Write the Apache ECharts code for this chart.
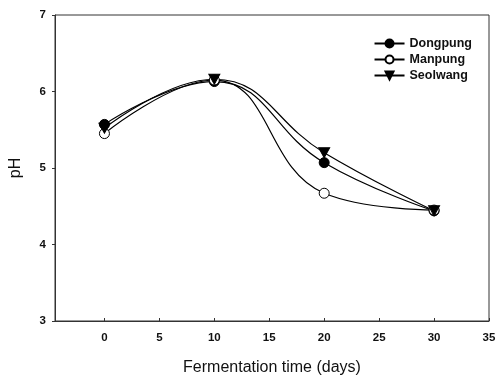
<!DOCTYPE html>
<html>
<head>
<meta charset="utf-8">
<script src="https://cdn.jsdelivr.net/npm/echarts@6/dist/echarts.min.js"></script>
<style>
  html, body { margin: 0; padding: 0; background: #fff; }
  #chart { width: 497px; height: 378px; }
</style>
</head>
<body>
<div id="chart"></div>
<script>
// fermentation days
const days = [0, 10, 20, 30];
// pH
const dongpung = [5.57, 6.13, 5.07, 4.44];
const manpung = [5.45, 6.15, 4.67, 4.45];
const seolwang = [5.52, 6.16, 5.2, 4.44];
const xTicks = [0, 5, 10, 15, 20, 25, 30, 35];
const yTicks = [3, 4, 5, 6, 7];

const chart = echarts.init(document.getElementById('chart'));

const font = 'Liberation Sans, Arial, sans-serif';

function pairs(vals) {
  return days.map((d, i) => [d, vals[i]]);
}

function line(name, vals, symbol, fill, size) {
  return {
    name,
    type: 'line',
    smooth: 0.45,
    data: pairs(vals),
    symbol,
    symbolSize: size,
    lineStyle: { color: '#000', width: 1.2 },
    itemStyle: { color: fill, borderColor: '#000', borderWidth: 1 },
    z: 3
  };
}

const option = {
  animation: false,
  backgroundColor: '#fff',
  grid: {
    left: 55, right: 8, top: 15, bottom: 57,
    outerBoundsMode: 'none',
    containLabel: false,
    show: true, borderColor: '#333', borderWidth: 1
  },
  legend: {
    top: 32,
    right: 20,
    orient: 'vertical',
    itemGap: 3,
    itemWidth: 30,
    itemHeight: 10,
    textStyle: { fontFamily: font, fontSize: 12.5, fontWeight: 'bold', color: '#111' },
    data: ['Dongpung', 'Manpung', 'Seolwang']
  },
  xAxis: {
    type: 'value',
    min: -4.5,
    max: 35,
    name: 'Fermentation time (days)',
    nameLocation: 'middle',
    nameGap: 39,
    nameTextStyle: { fontFamily: font, fontSize: 16, color: '#111' },
    axisLine: { show: true, onZero: false, lineStyle: { color: '#333', width: 1 } },
    axisTick: { show: true, inside: true, length: 3, customValues: xTicks, lineStyle: { color: '#333' } },
    axisLabel: {
      customValues: xTicks,
      fontFamily: font, fontSize: 11.5, fontWeight: 'bold', color: '#111', margin: 11
    },
    splitLine: { show: false }
  },
  yAxis: {
    type: 'value',
    min: 3,
    max: 7,
    interval: 1,
    name: 'pH',
    nameLocation: 'middle',
    nameGap: 31,
    nameTextStyle: { fontFamily: font, fontSize: 16, color: '#111' },
    axisLine: { show: true, onZero: false, lineStyle: { color: '#333', width: 1 } },
    axisTick: { show: true, length: 3, lineStyle: { color: '#333' } },
    axisLabel: {
      customValues: yTicks,
      fontFamily: font, fontSize: 11.5, fontWeight: 'bold', color: '#111', margin: 9
    },
    splitLine: { show: false }
  },
  series: [
    line('Dongpung', dongpung, 'circle', '#000', 10),
    line('Manpung', manpung, 'circle', '#fff', 10),
    line('Seolwang', seolwang, 'path://M0,0 L10,0 L5,9 Z', '#000', [11, 10])
  ]
};

chart.setOption(option);
</script>
</body>
</html>
